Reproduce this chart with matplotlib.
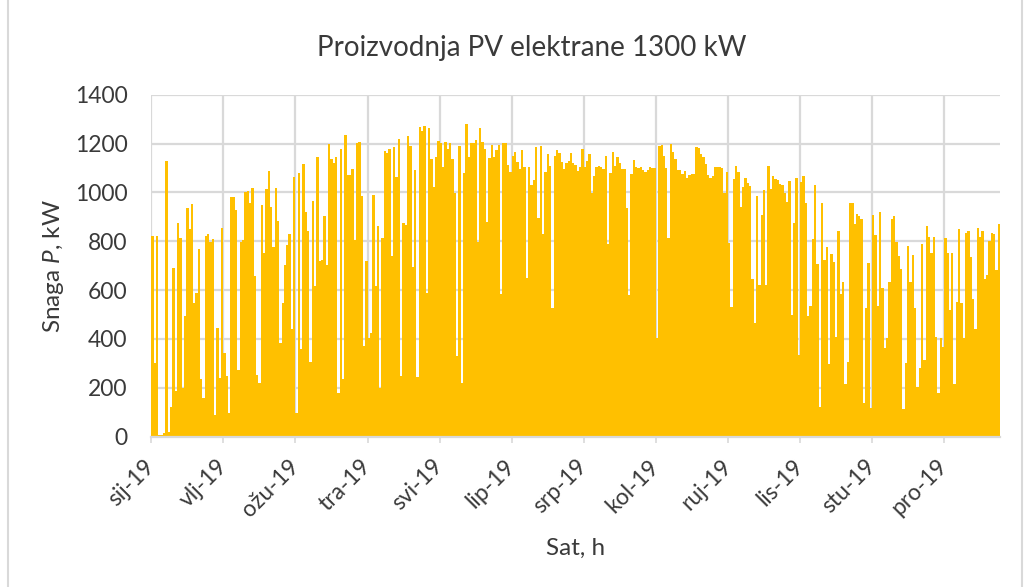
import matplotlib
matplotlib.use("Agg")
import matplotlib.pyplot as plt
from matplotlib.lines import Line2D
import numpy as np

plt.rcParams['font.family'] = ['Lato', 'DejaVu Sans']
plt.rcParams['mathtext.fontset'] = 'custom'
plt.rcParams['mathtext.it'] = 'Lato:italic'
plt.rcParams['mathtext.rm'] = 'Lato'

title = "Proizvodnja PV elektrane 1300 kW"
ylabel = "Snaga $\\it{P}$, kW"
xlabel = "Sat, h"

# daily peak power (kW), per calendar month of 2019
jan = [822, 300, 822, 5, 5, 15, 1130, 20, 123, 692, 187, 876, 813, 200, 494, 938,
       852, 954, 549, 587, 770, 235, 157, 822, 830, 799, 808, 89, 445, 240, 856]
feb = [341, 248, 98, 983, 983, 928, 273, 799, 805, 1002, 1006, 958, 1017, 658,
       253, 221, 949, 753, 1014, 1088, 942, 775, 1017, 885, 385, 549, 703, 784]
mar = [829, 440, 1065, 98, 1078, 358, 1117, 920, 842, 307, 966, 617, 1147, 719,
       723, 904, 703, 1197, 1137, 1122, 1143, 177, 1177, 235, 1233, 1070, 1070,
       1095, 805, 1201, 1208]
apr = [986, 371, 719, 403, 423, 988, 617, 863, 200, 812, 1170, 1160, 1177, 741,
       1185, 1065, 1219, 248, 874, 868, 1229, 1190, 693, 1092, 243, 1267, 1253,
       1272, 590, 1263]
may = [1136, 1024, 1147, 1211, 1201, 1102, 1205, 1179, 1201, 1136, 996, 330,
       1190, 218, 1078, 1280, 1144, 1204, 1201, 1215, 799, 1263, 1208, 1177, 880,
       1140, 1194, 1144, 1174, 1194, 584]
jun = [1201, 1201, 1112, 1085, 1149, 1167, 1126, 1095, 1174, 1106, 651, 1103,
       1031, 1051, 1185, 894, 1190, 829, 1085, 1156, 1108, 526, 1151, 1174, 1160,
       1126, 1097, 1122, 1130, 1163]
jul = [1119, 1112, 1088, 1106, 1177, 1103, 1130, 1156, 999, 1067, 1106, 1108,
       1103, 1097, 1149, 789, 1078, 1164, 1108, 1147, 1122, 1096, 1095, 938, 580,
       1074, 1133, 1103, 1101, 1103, 1092]
aug = [1085, 1092, 1103, 1099, 1099, 403, 1190, 1194, 1151, 1099, 815, 1198, 1167,
       1137, 1092, 1092, 1074, 1088, 1058, 1072, 1076, 1076, 1185, 1181, 1158,
       1147, 1117, 1072, 1058, 1067, 1102]
sep = [1102, 1106, 1099, 996, 1085, 792, 532, 1054, 1108, 1085, 942, 1024, 1058,
       1040, 1026, 646, 467, 986, 621, 908, 1010, 621, 1108, 1014, 1067, 1054,
       1051, 1033, 1031, 996]
oct_ = [962, 1048, 498, 876, 1061, 334, 1044, 1069, 958, 496, 535, 809, 1031, 707,
        120, 956, 723, 775, 296, 748, 714, 410, 842, 583, 632, 214, 307, 958, 956,
        870, 910]
nov = [905, 891, 137, 526, 710, 116, 908, 826, 535, 919, 607, 364, 403, 632, 891,
       904, 799, 741, 685, 112, 300, 781, 632, 744, 528, 205, 280, 789, 314, 864]
dec = [819, 751, 819, 407, 177, 403, 369, 815, 751, 519, 751, 214, 553, 849, 546,
       403, 835, 842, 737, 562, 440, 856, 819, 842, 644, 662, 801, 833, 829, 683,
       870]

tick_labels = ["sij-19", "vlj-19", "ožu-19", "tra-19", "svi-19", "lip-19",
               "srp-19", "kol-19", "ruj-19", "lis-19", "stu-19", "pro-19"]
tick_step_days = 31
yticks = [0, 200, 400, 600, 800, 1000, 1200, 1400]

power = np.array(jan + feb + mar + apr + may + jun + jul + aug + sep + oct_ + nov + dec)
days = np.arange(len(power))

W, H = 1030, 587
fig = plt.figure(figsize=(W / 100, H / 100), dpi=100)
fig.patch.set_facecolor('white')

# chart-area border (left and right edges visible)
for xb in (7.5 / W, 1022 / W):
    fig.add_artist(Line2D([xb, xb], [0, 1], transform=fig.transFigure,
                          color='#d9d9d9', linewidth=1.5))

left, right = 151.3 / W, 1000 / W
top, bottom = 1 - 94.7 / H, 1 - 436.7 / H
ax = fig.add_axes([left, bottom, right - left, top - bottom])

txt = '#3a3a3a'
grid = '#d9d9d9'

ax.bar(days, power, width=1.0, align='edge', color='#FFC000', linewidth=0, zorder=2)

ax.set_xlim(0, len(power))
ax.set_ylim(0, 1400)
ax.set_yticks(yticks)
ax.set_yticklabels([str(v) for v in yticks])
xt = [i * tick_step_days for i in range(len(tick_labels))]
ax.set_xticks(xt)
ax.set_xticklabels(tick_labels, rotation=45, ha='right', va='center',
                   rotation_mode='anchor')

ax.grid(True, color=grid, linewidth=1.6, zorder=0)
ax.set_axisbelow(True)
for s in ['top', 'right', 'left']:
    ax.spines[s].set_visible(False)
ax.spines['bottom'].set_color(grid)
ax.spines['bottom'].set_linewidth(1.6)

ax.tick_params(axis='y', length=0, pad=17, labelsize=16.5, labelcolor=txt)
ax.tick_params(axis='x', length=4, width=1.2, color=grid, pad=15,
               labelsize=16.5, labelcolor=txt)

fig.text(532 / W, 1 - 48 / H, title, ha='center', va='center',
         fontsize=20, color=txt)
fig.text(53 / W, 0.5 * (top + bottom), ylabel, rotation=90, ha='center',
         va='center', fontsize=17.5, color=txt)
fig.text(0.5 * (left + right), 1 - 548 / H, xlabel, ha='center', va='center',
         fontsize=17.5, color=txt)

fig.savefig('out.png', dpi=100)
